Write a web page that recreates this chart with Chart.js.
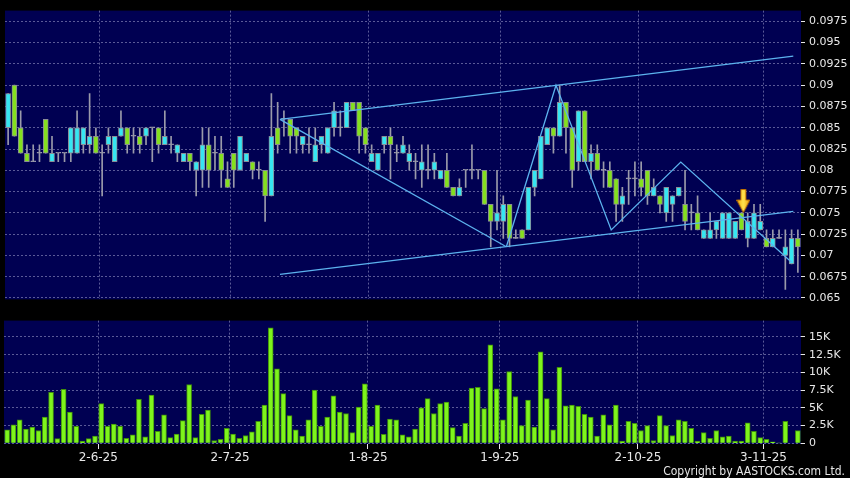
<!DOCTYPE html>
<html lang="en">
<head>
<meta charset="UTF-8">
<title>Grafico</title>
<script src="https://cdn.jsdelivr.net/npm/chart.js"></script>
<style>
    body {
        margin: 0;
        width: 850px;
        height: 478px;
        background: #000;
        overflow: hidden;
        position: relative;
    }
    .panel { position: absolute; left: 0; }
    #panelPrecio { top: 0; }
    #panelVolumen { top: 310px; }
    .copy {
        position: absolute;
        right: 5px;
        top: 464px;
        color: #e6e6e6;
        font: 12px "Liberation Sans Narrow", "DejaVu Sans Condensed", sans-serif;
    }
</style>
</head>
<body>
<div class="panel" id="panelPrecio"><canvas id="precioChart" width="850" height="310"></canvas></div>
<div class="panel" id="panelVolumen"><canvas id="volumenChart" width="850" height="168"></canvas></div>
<div class="copy">Copyright by AASTOCKS.com Ltd.</div>
<script>
// datos (precio en HKD, volumen en miles)
const opens  = [.085,.090,.085,.082,.081,.082,.086,.081,.082,.082,.082,.082,.083,.083,.084,.082,.083,.081,.084,.085,
                .084,.084,.084,.085,.085,.083,.083,.082,.081,.082,.080,.080,.083,.082,.082,.079,.082,.080,.081,.081,
                .080,.080,.077,.085,.086,.086,.085,.083,.083,.081,.083,.082,.085,.085,.085,.088,.088,.085,.081,.080,
                .083,.084,.082,.082,.081,.081,.080,.080,.080,.079,.080,.078,.077,.080,.080,.080,.080,.076,.074,.074,
                .076,.072,.073,.073,.078,.079,.083,.085,.084,.088,.085,.081,.087,.081,.082,.080,.080,.079,.076,.079,
                .079,.079,.080,.077,.077,.075,.076,.077,.076,.075,.075,.072,.072,.073,.072,.072,.072,.075,.072,.072,
                .073,.072,.071,.072,.070,.069,.072];
const highs  = [.089,.090,.087,.083,.083,.083,.086,.084,.082,.082,.085,.087,.085,.089,.085,.083,.085,.084,.087,.085,
                .085,.085,.085,.085,.085,.087,.084,.083,.082,.082,.081,.085,.085,.084,.084,.081,.082,.084,.082,.081,
                .081,.080,.089,.088,.087,.086,.085,.084,.085,.085,.084,.085,.088,.087,.088,.088,.088,.085,.083,.082,
                .084,.085,.083,.084,.083,.082,.083,.083,.082,.080,.082,.078,.079,.080,.083,.080,.080,.076,.080,.077,
                .076,.073,.073,.078,.080,.084,.085,.085,.090,.088,.085,.087,.087,.083,.083,.081,.081,.079,.078,.080,
                .081,.081,.080,.079,.077,.078,.077,.078,.080,.076,.077,.073,.075,.074,.075,.075,.074,.075,.075,.076,
                .076,.073,.073,.073,.073,.073,.073];
const lows   = [.083,.084,.082,.081,.081,.081,.082,.081,.081,.081,.081,.082,.082,.082,.082,.077,.082,.081,.084,.082,
                .082,.082,.083,.081,.082,.083,.082,.081,.081,.080,.077,.078,.078,.080,.078,.078,.078,.080,.081,.079,
                .079,.074,.077,.082,.084,.082,.082,.082,.082,.081,.082,.082,.084,.084,.085,.087,.082,.082,.081,.080,
                .082,.079,.081,.082,.080,.079,.078,.079,.079,.079,.078,.077,.077,.078,.079,.079,.076,.071,.073,.072,
                .071,.072,.072,.073,.077,.079,.083,.082,.084,.082,.078,.080,.081,.079,.080,.078,.078,.074,.074,.076,
                .077,.077,.076,.077,.075,.074,.074,.077,.073,.073,.073,.072,.072,.072,.072,.072,.072,.073,.071,.072,
                .073,.071,.071,.072,.066,.069,.068];
const closes = [.089,.084,.082,.081,.081,.082,.082,.082,.082,.082,.085,.085,.085,.084,.082,.082,.084,.084,.085,.083,
                .084,.083,.085,.085,.083,.084,.083,.083,.082,.081,.081,.083,.080,.082,.080,.078,.080,.084,.082,.080,
                .080,.077,.084,.083,.086,.084,.084,.084,.083,.083,.084,.085,.087,.085,.088,.087,.084,.083,.082,.082,
                .084,.083,.082,.083,.082,.081,.081,.080,.081,.080,.078,.077,.078,.080,.080,.080,.076,.074,.075,.076,
                .072,.072,.072,.078,.080,.084,.085,.084,.088,.085,.080,.087,.081,.082,.080,.080,.078,.076,.077,.079,
                .079,.078,.077,.078,.076,.078,.077,.078,.074,.075,.073,.073,.073,.074,.075,.075,.074,.073,.074,.075,
                .074,.071,.072,.072,.071,.072,.071];
const volK   = [1.9,2.6,3.3,2.0,2.3,1.8,3.7,7.2,0.65,7.6,4.4,2.4,0.3,0.65,1.0,5.6,2.4,2.7,2.4,0.7,
                1.2,6.2,0.9,6.8,1.7,4.0,0.8,1.3,3.2,8.3,0.8,4.1,4.7,0.4,0.55,2.1,1.3,0.7,1.1,1.6,
                3.1,5.4,16.3,10.5,7.0,3.9,1.9,1.0,3.3,7.5,2.4,3.7,6.7,4.4,4.2,1.5,5.1,8.4,2.4,5.4,
                1.25,3.4,3.3,1.2,0.9,2.0,5.0,6.3,4.2,5.6,5.8,2.2,1.0,2.8,7.8,7.9,4.9,13.9,7.7,3.3,
                10.1,6.6,2.5,6.1,2.3,12.9,6.3,1.9,10.7,5.3,5.4,5.2,4.1,3.7,1.0,4.0,2.6,5.4,0.3,3.1,
                2.8,1.8,2.5,0.4,3.9,2.5,1.1,3.3,3.1,2.1,0.3,1.5,0.7,1.8,0.9,1.0,0.3,0.3,2.9,1.7,
                0.8,0.55,0.2,0.05,3.1,0,1.8];

const tickLabels = ['2-6-25', '2-7-25', '1-8-25', '1-9-25', '2-10-25', '3-11-25'];
const tickIndex  = [15, 36, 58, 79, 101, 121];
const priceTicks = [0.065, 0.0675, 0.07, 0.0725, 0.075, 0.0775, 0.08, 0.0825, 0.085, 0.0875, 0.09, 0.0925, 0.095, 0.0975];
const priceTickLabels = ['0.065', '0.0675', '0.07', '0.0725', '0.075', '0.0775', '0.08', '0.0825', '0.085', '0.0875', '0.09', '0.0925', '0.095', '0.0975'];
const volTicks = [0, 2.5, 5, 7.5, 10, 12.5, 15];
const volTickLabels = ['0', '2.5K', '5K', '7.5K', '10K', '12.5K', '15K'];

// lineas de tendencia: [posicion de barra, precio]
const lineaSuperior = [[43.37, 0.08598], [125.27, 0.09342]];
const lineaInferior = [[43.37, 0.06776], [125.27, 0.07516]];
const lineaBajada   = [[43.37, 0.08598], [79.49, 0.07101]];
const zigzag        = [[79.49, 0.07101], [87.41, 0.0900], [96.22, 0.0730], [107.32, 0.08097], [125.0, 0.06919]];
const flecha        = [[117.3, 0.07639]];

const CIAN = '#36e6f2';
const VERDE = '#84e01e';
const GRIS = '#9a9aaa';
const GRID = 'rgba(120,120,175,0.75)';
const TXT = '#e8e8e8';
const AZUL_LINEA = '#5cb2ee';

const n = closes.length;
const etiquetas = closes.map((_, i) => {
    const k = tickIndex.indexOf(i);
    return k >= 0 ? tickLabels[k] : '';
});

const fondoPanel = {
    id: 'fondoPanel',
    beforeDraw(chart) {
        const a = chart.chartArea;
        const ctx = chart.ctx;
        ctx.save();
        ctx.fillStyle = '#000052';
        ctx.fillRect(a.left, a.top, a.right - a.left, a.bottom - a.top);
        ctx.restore();
    }
};

function lineaFecha(c) {
    return tickIndex.includes(c.index) ? GRID : 'rgba(0,0,0,0)';
}
function marcaFecha(c) {
    return tickIndex.includes(c.index) ? TXT : 'rgba(0,0,0,0)';
}
function puntos(lista) {
    return lista.map(p => ({ x: p[0], y: p[1] }));
}
function datasetLinea(lista) {
    return {
        type: 'line',
        data: puntos(lista),
        xAxisID: 'xl',
        borderColor: AZUL_LINEA,
        borderWidth: 1.3,
        pointRadius: 0,
        fill: false,
        tension: 0,
        order: 0
    };
}
function crearFlecha() {
    const c = document.createElement('canvas');
    c.width = 14;
    c.height = 24;
    const g = c.getContext('2d');
    const grad = g.createLinearGradient(0, 0, 14, 0);
    grad.addColorStop(0, '#f5a800');
    grad.addColorStop(0.5, '#ffe550');
    grad.addColorStop(1, '#ee9600');
    g.fillStyle = grad;
    g.strokeStyle = '#c07000';
    g.lineWidth = 1;
    g.beginPath();
    g.moveTo(4.5, 0.5);
    g.lineTo(9.5, 0.5);
    g.lineTo(9.5, 11);
    g.lineTo(13.5, 11);
    g.lineTo(7, 23.5);
    g.lineTo(0.5, 11);
    g.lineTo(4.5, 11);
    g.closePath();
    g.fill();
    g.stroke();
    return c;
}

const colorCuerpo = opens.map((o, i) => closes[i] > o ? CIAN : (closes[i] < o ? VERDE : GRIS));
const bordeCuerpo = opens.map((o, i) => closes[i] === o ? GRIS : '#8a8c96');

const fuenteEje = { family: 'DejaVu Sans', size: 11 };

new Chart(document.getElementById('precioChart'), {
    type: 'bar',
    data: {
        labels: etiquetas,
        datasets: [
            {
                data: lows.map((l, i) => [l, highs[i]]),
                backgroundColor: GRIS,
                borderWidth: 0,
                barThickness: 1,
                grouped: false,
                order: 2
            },
            {
                data: opens.map((o, i) => [o, closes[i]]),
                backgroundColor: colorCuerpo,
                borderColor: bordeCuerpo,
                borderWidth: 1,
                borderSkipped: false,
                barThickness: 5,
                minBarLength: 1,
                grouped: false,
                order: 1
            },
            datasetLinea(lineaSuperior),
            datasetLinea(lineaInferior),
            datasetLinea(lineaBajada),
            datasetLinea(zigzag),
            {
                type: 'line',
                data: puntos(flecha),
                xAxisID: 'xl',
                showLine: false,
                pointStyle: crearFlecha(),
                order: -1
            }
        ]
    },
    options: {
        responsive: false,
        animation: false,
        layout: { padding: { left: 4, top: 7, right: 0, bottom: 5 } },
        plugins: { legend: { display: false }, tooltip: { enabled: false } },
        scales: {
            x: {
                type: 'category',
                offset: true,
                grid: { offset: true, color: lineaFecha, drawTicks: false },
                border: { display: false, dash: [2, 2] },
                ticks: { display: false, autoSkip: false },
                afterFit: s => { s.height = 0; }
            },
            xl: {
                type: 'linear',
                position: 'bottom',
                min: -0.5,
                max: n - 0.5,
                offset: false,
                bounds: 'data',
                grace: 0,
                grid: { display: false, drawTicks: false },
                border: { display: false },
                ticks: { display: false },
                afterFit: s => { s.height = 0; }
            },
            y: {
                position: 'right',
                min: 0.064829,
                max: 0.098764,
                afterBuildTicks: s => { s.ticks = priceTicks.map(v => ({ value: v })); },
                ticks: {
                    color: TXT,
                    font: fuenteEje,
                    padding: 4,
                    callback: (v, i) => priceTickLabels[i]
                },
                grid: { color: GRID, tickColor: TXT, tickLength: 4 },
                border: { display: false, dash: [2, 2] },
                afterFit: s => { s.width = 49; }
            }
        }
    },
    plugins: [fondoPanel]
});

new Chart(document.getElementById('volumenChart'), {
    type: 'bar',
    data: {
        labels: etiquetas,
        datasets: [{
            data: volK,
            backgroundColor: '#7ef41c',
            borderColor: '#3f8e0c',
            borderWidth: 1,
            barThickness: 5
        }]
    },
    options: {
        responsive: false,
        animation: false,
        layout: { padding: { left: 4, top: 8, right: 0, bottom: 0 } },
        plugins: { legend: { display: false }, tooltip: { enabled: false } },
        scales: {
            x: {
                type: 'category',
                offset: true,
                grid: { offset: true, color: lineaFecha, tickColor: marcaFecha, tickLength: 5 },
                border: { display: false, dash: [2, 2] },
                ticks: {
                    autoSkip: false,
                    maxRotation: 0,
                    color: TXT,
                    font: { family: 'DejaVu Sans', size: 12 },
                    padding: 2,
                    labelOffset: -3
                },
                afterFit: s => { s.height = 34; }
            },
            y: {
                position: 'right',
                min: -0.1,
                max: 17.31,
                afterBuildTicks: s => { s.ticks = volTicks.map(v => ({ value: v })); },
                ticks: {
                    color: TXT,
                    font: fuenteEje,
                    padding: 4,
                    callback: (v, i) => volTickLabels[i]
                },
                grid: { color: GRID, tickColor: TXT, tickLength: 4 },
                border: { display: false, dash: [2, 2] },
                afterFit: s => { s.width = 49; }
            }
        }
    },
    plugins: [fondoPanel]
});
</script>
</body>
</html>
